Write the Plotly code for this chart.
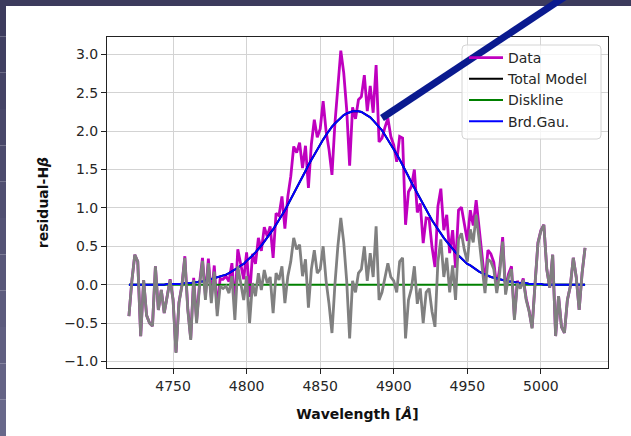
import plotly.graph_objects as go

# ---------------- data ----------------
wavelength = list(range(4720, 5031, 2))

data_flux = [
    -0.41, 0.05, 0.39, 0.30, -0.67, 0.06, -0.40, -0.50, -0.54, 0.24,
    -0.33, -0.07, -0.37, -0.14, 0.07, -0.19, -0.88, -0.23, -0.01, 0.37,
    -0.31, -0.70, 0.09, -0.47, 0.02, 0.35, -0.15, 0.34, -0.17, 0.25,
    -0.32, 0.08, 0.07, 0.11, 0.04, 0.28, -0.27, 0.46, 0.27, 0.07,
    0.42, -0.16, 0.40, 0.27, 0.61, 0.44, 0.75, 0.63, 0.76, 0.35,
    0.93, 0.90, 1.15, 0.73, 1.15, 1.41, 1.80, 1.72, 1.85, 1.52,
    1.81, 1.26, 1.83, 2.15, 1.92, 2.03, 2.39, 2.00, 1.76, 1.43,
    2.10, 2.64, 3.05, 2.76, 2.28, 1.55, 2.31, 2.16, 2.41, 2.45,
    2.73, 2.26, 2.59, 2.24, 2.86, 1.86, 1.91, 2.05, 2.17, 1.93,
    1.82, 1.60, 1.93, 1.91, 0.78, 1.21, 1.28, 1.50, 0.94, 1.06,
    0.54, 0.87, 0.86, 0.49, 0.23, 1.02, 1.25, 0.71, 0.91, 0.41,
    0.71, 0.22, 0.97, 1.01, 0.76, 0.57, 0.97, 0.77, 1.10, 0.76,
    0.39, 0.02, 0.45, 0.40, 0.29, -0.03, 0.22, 0.62, -0.08, 0.14,
    0.24, -0.43, 0.05, -0.03, 0.08, -0.18, -0.34, -0.56, 0.01, 0.55,
    0.71, 0.78, 0.20, -0.04, 0.39, -0.67, -0.15, -0.55, -0.63, -0.20,
    -0.02, 0.35, 0.10, -0.33, 0.15, 0.48,
]

brd_gau = [
    0.00, 0.00, 0.00, 0.00, 0.00, 0.00, 0.00, 0.00, 0.00, 0.00,
    0.00, 0.00, 0.00, 0.01, 0.01, 0.01, 0.01, 0.01, 0.01, 0.02,
    0.02, 0.02, 0.03, 0.03, 0.04, 0.04, 0.05, 0.06, 0.07, 0.08,
    0.09, 0.10, 0.12, 0.13, 0.15, 0.17, 0.19, 0.22, 0.25, 0.27,
    0.31, 0.34, 0.38, 0.42, 0.46, 0.51, 0.56, 0.61, 0.66, 0.72,
    0.78, 0.84, 0.91, 0.97, 1.04, 1.11, 1.19, 1.26, 1.33, 1.41,
    1.48, 1.56, 1.63, 1.70, 1.77, 1.83, 1.89, 1.95, 2.01, 2.06,
    2.10, 2.14, 2.18, 2.21, 2.23, 2.25, 2.26, 2.26, 2.26, 2.25,
    2.23, 2.21, 2.18, 2.14, 2.10, 2.06, 2.01, 1.95, 1.89, 1.83,
    1.77, 1.70, 1.63, 1.56, 1.48, 1.41, 1.33, 1.26, 1.19, 1.11,
    1.04, 0.97, 0.91, 0.84, 0.78, 0.72, 0.66, 0.61, 0.56, 0.51,
    0.46, 0.42, 0.38, 0.34, 0.31, 0.27, 0.25, 0.22, 0.19, 0.17,
    0.15, 0.13, 0.12, 0.10, 0.09, 0.08, 0.07, 0.06, 0.05, 0.04,
    0.04, 0.03, 0.03, 0.02, 0.02, 0.02, 0.01, 0.01, 0.01, 0.01,
    0.01, 0.00, 0.00, 0.00, 0.00, 0.00, 0.00, 0.00, 0.00, 0.00,
    0.00, 0.00, 0.00, 0.00, 0.00, 0.00,
]

diskline = [0.0] * len(wavelength)

x_ticks = [4750, 4800, 4850, 4900, 4950, 5000]
y_ticks = [-1.0, -0.5, 0.0, 0.5, 1.0, 1.5, 2.0, 2.5, 3.0]
y_tick_labels = ["\u22121.0", "\u22120.5", "0.0", "0.5", "1.0", "1.5", "2.0", "2.5", "3.0"]

# derived series, as in the original analysis
total_model = [d + g for d, g in zip(diskline, brd_gau)]
residual = [f - m for f, m in zip(data_flux, total_model)]

# ---------------- figure ----------------
W, H = 631, 436
ML, MR, MT, MB = 107, 23, 37, 68
PW, PH = W - ML - MR, H - MT - MB


def px(x):
    return (x - ML) / PW


def py(y):
    return 1 - (y - MT) / PH


FONT = "DejaVu Sans"
fig = go.Figure()
fig.add_trace(go.Scatter(x=wavelength, y=data_flux, mode="lines", name="Data",
                         line=dict(color="#bf00bf", width=2.8), legendgroup="a"))
fig.add_trace(go.Scatter(x=wavelength, y=total_model, mode="lines", name="Total Model",
                         line=dict(color="black", width=2), legendgroup="b"))
fig.add_trace(go.Scatter(x=wavelength, y=diskline, mode="lines", name="Diskline",
                         line=dict(color="#008000", width=2), legendgroup="c"))
fig.add_trace(go.Scatter(x=wavelength, y=brd_gau, mode="lines", name="Brd.Gau.",
                         line=dict(color="#0000ff", width=2), legendgroup="d"))
fig.add_trace(go.Scatter(x=wavelength, y=residual, mode="lines", name="residual",
                         line=dict(color="#808080", width=2.8), showlegend=False))

shapes = []
# dark screenshot border (top band + left band with slight gradient)
shapes.append(dict(type="rect", xref="paper", yref="paper", x0=px(0), x1=px(W), y0=py(6), y1=py(0),
                   fillcolor="#3c3b5d", line=dict(width=0), layer="above"))
n = 12
c0, c1 = (60, 59, 93), (104, 104, 138)
for i in range(n):
    t = i / (n - 1)
    col = "rgb(%d,%d,%d)" % tuple(int(a + (b - a) * t) for a, b in zip(c0, c1))
    shapes.append(dict(type="rect", xref="paper", yref="paper", x0=px(0), x1=px(6),
                       y0=py(H * (i + 1) / n), y1=py(H * i / n),
                       fillcolor=col, line=dict(width=0), layer="above"))
# legend background box (rounded)
lx0, ly0, lx1, ly1, r = 462, 45, 601, 139, 4
path = (f"M {px(lx0 + r)} {py(ly0)} L {px(lx1 - r)} {py(ly0)} Q {px(lx1)} {py(ly0)} {px(lx1)} {py(ly0 + r)} "
        f"L {px(lx1)} {py(ly1 - r)} Q {px(lx1)} {py(ly1)} {px(lx1 - r)} {py(ly1)} "
        f"L {px(lx0 + r)} {py(ly1)} Q {px(lx0)} {py(ly1)} {px(lx0)} {py(ly1 - r)} "
        f"L {px(lx0)} {py(ly0 + r)} Q {px(lx0)} {py(ly0)} {px(lx0 + r)} {py(ly0)} Z")
shapes.append(dict(type="path", xref="paper", yref="paper", path=path,
                   fillcolor="rgba(255,255,255,0.8)", line=dict(color="#d4d4d4", width=1), layer="above"))
# annotation arrow (thick navy line)
shapes.append(dict(type="line", xref="paper", yref="paper", x0=px(382), y0=py(118), x1=px(566), y1=py(-4),
                   line=dict(color="#0a1a8f", width=7), layer="above"))

fig.update_layout(
    width=W, height=H,
    margin=dict(l=ML, r=MR, t=MT, b=MB, autoexpand=False),
    paper_bgcolor="white", plot_bgcolor="white",
    font=dict(family=FONT, size=14, color="#262626"),
    shapes=shapes,
    showlegend=True,
    legend=dict(x=px(464), y=py(42), xanchor="left", yanchor="top",
                bgcolor="rgba(0,0,0,0)", borderwidth=0, itemwidth=34,
                font=dict(family=FONT, size=14, color="#262626"),
                tracegroupgap=7, traceorder="normal"),
    xaxis=dict(range=[4705.1, 5045.6], tickvals=x_ticks, ticks="outside", ticklen=5,
               tickcolor="#222", tickwidth=1.1, showline=True, linecolor="#222", linewidth=1.1,
               mirror=True, showgrid=True, gridcolor="#d3d3d3", gridwidth=1.1, zeroline=False,
               tickfont=dict(family=FONT, size=14, color="#262626"),
               title=dict(text="<b>Wavelength [<i>Å</i>]</b>", standoff=16,
                          font=dict(family=FONT, size=14, color="#111"))),
    yaxis=dict(range=[-1.086, 3.227], tickvals=y_ticks, ticktext=y_tick_labels, ticks="outside",
               ticklen=5, tickcolor="#222", tickwidth=1.1, showline=True, linecolor="#222",
               linewidth=1.1, mirror=True, showgrid=True, gridcolor="#d3d3d3", gridwidth=1.1,
               zeroline=False, tickfont=dict(family=FONT, size=14, color="#262626"),
               title=dict(text="<b>residual-H<i>β</i></b>", standoff=12,
                          font=dict(family=FONT, size=14, color="#111"))),
)

fig.write_html("out.html", config={"displayModeBar": False},
               post_script="document.body.style.margin='0';document.body.style.overflow='hidden';")
